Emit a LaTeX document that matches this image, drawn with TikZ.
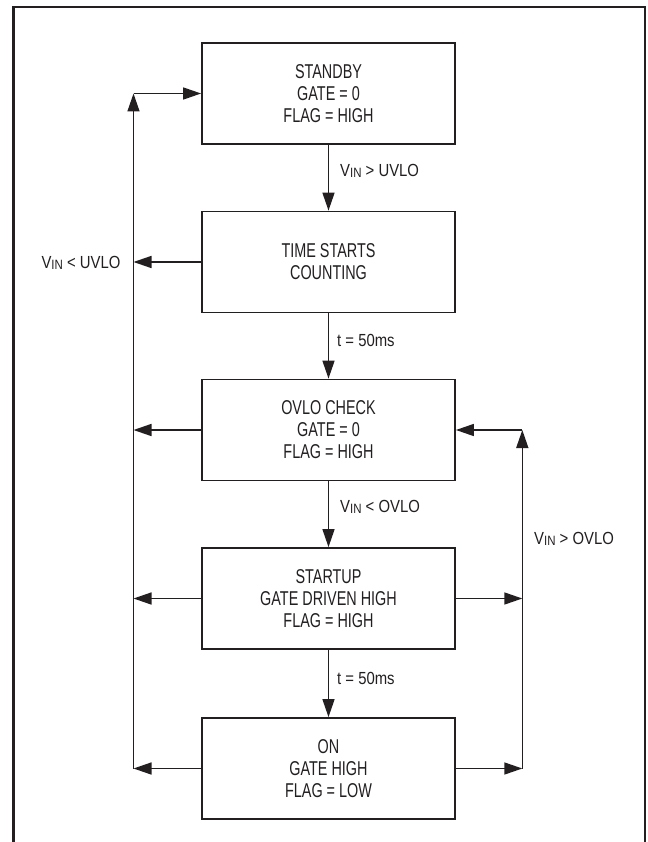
\documentclass[tikz,border=0pt]{standalone}
\usepackage{fontspec}
\setmainfont{Liberation Sans}
\newfontfamily\boxfont[FakeStretch=0.72]{Liberation Sans}
\newfontfamily\lblfont[FakeStretch=0.85]{Liberation Sans}
\usetikzlibrary{arrows.meta}
\definecolor{ink}{HTML}{231F20}
\newcommand{\vin}{V\raisebox{-1.2pt}{\fontsize{13.5}{13.5}\selectfont IN}}
\begin{document}
\begin{tikzpicture}[x=1pt,y=-1pt,
  statebox/.style={draw=ink, line width=1.8pt, minimum width=253pt, minimum height=101pt,
    inner sep=0pt, align=center, text=ink, font=\boxfont\fontsize{20}{22}\selectfont},
  conn/.style={draw=ink, line width=1.5pt, -{Triangle[length=18pt,width=12pt]}},
  plain/.style={draw=ink, line width=1.5pt},
  lbl/.style={text=ink, inner sep=0pt, font=\lblfont\fontsize{17.5}{20}\selectfont}]
\useasboundingbox (0,0) rectangle (647,842);
\fill[white] (0,0) rectangle (647,842);
\draw[ink, line width=2.2pt] (13.5,850) -- (13.5,7) -- (645.3,7) -- (645.3,850);

\node[statebox] (standby) at (328.5,93.5) {STANDBY\\GATE = 0\\FLAG = HIGH};
\node[statebox] (time) at (328.5,262) {TIME STARTS\\COUNTING};
\node[statebox] (ovlo) at (328.5,430) {OVLO CHECK\\GATE = 0\\FLAG = HIGH};
\node[statebox] (startup) at (328.5,598.5) {STARTUP\\GATE DRIVEN HIGH\\FLAG = HIGH};
\node[statebox] (on) at (328.5,768.5) {ON\\GATE HIGH\\FLAG = LOW};

\coordinate (lbot) at (133.5,768.5);
\coordinate (ltop) at (133.5,93.5);
\coordinate (rbot) at (522.3,768.5);
\coordinate (rtop) at (522.3,430);

% main chain
\draw[conn] (standby) -- (time);
\draw[conn] (time) -- (ovlo);
\draw[conn] (ovlo) -- (startup);
\draw[conn] (startup) -- (on);

% left return
\draw[conn] (lbot) -- (ltop);
\draw[conn] (ltop) -- (standby.west);
\draw[conn] (time.west) -- (time.west -| lbot);
\draw[conn] (ovlo.west) -- (ovlo.west -| lbot);
\draw[conn] (startup.west) -- (startup.west -| lbot);
\draw[conn] (on.west) -- (lbot);

% right return
\draw[conn] (rbot) -- (rtop);
\draw[conn] (rtop) -- (ovlo.east);
\draw[conn] (startup.east) -- (startup.east -| rbot);
\draw[conn] (on.east) -- (rbot);

% labels
\node[lbl, anchor=west] (l1) at (340,171) {\vin{} > UVLO};
\node[lbl, anchor=west] (l2) at (337,340) {t = 50ms};
\node[lbl, anchor=west] (l3) at (340,507) {\vin{} < OVLO};
\node[lbl, anchor=west] (l4) at (337,678) {t = 50ms};
\node[lbl] (l5) at (81,263) {\vin{} < UVLO};
\node[lbl, anchor=west] (l6) at (534,539) {\vin{} > OVLO};
\end{tikzpicture}
\end{document}
